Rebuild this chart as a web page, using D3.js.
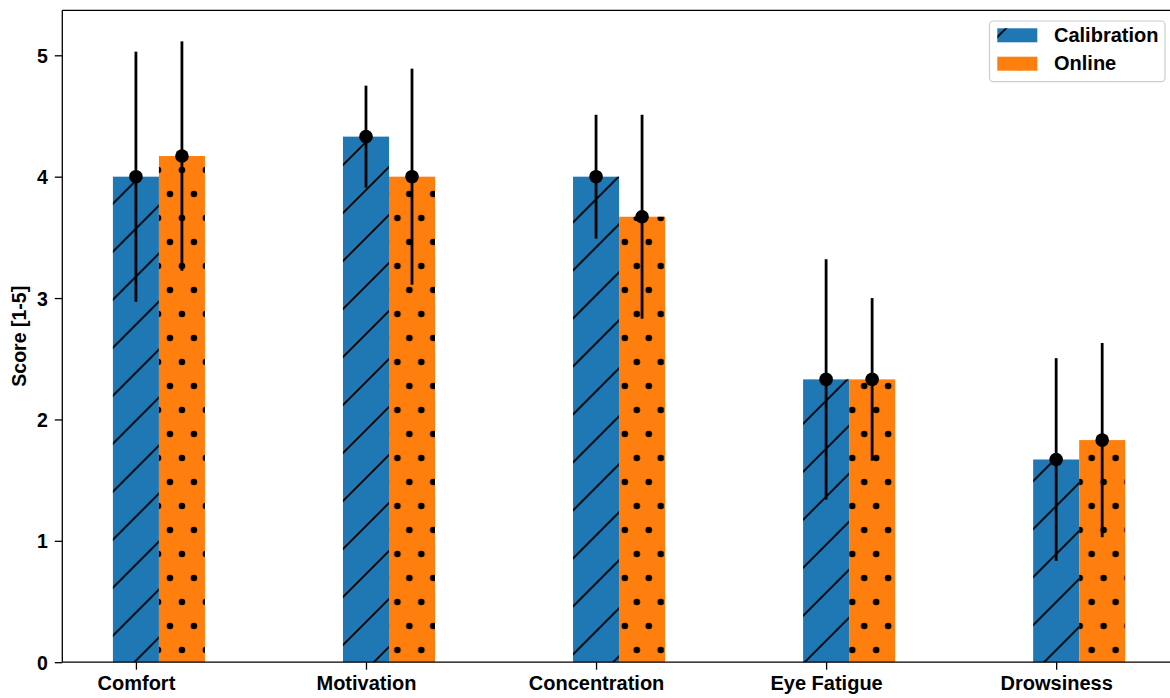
<!DOCTYPE html>
<html>
<head>
<meta charset="utf-8">
<script src="https://cdn.jsdelivr.net/npm/d3@7"></script>
<style>
  html, body { margin: 0; padding: 0; background: #ffffff; }
  svg { display: block; }
  text { font-family: "Liberation Sans", Arial, sans-serif; font-weight: bold; fill: #000; }
</style>
</head>
<body>
<script>
// ---- data ----
const categories = ["Comfort", "Motivation", "Concentration", "Eye Fatigue", "Drowsiness"];
const seriesNames = ["Calibration", "Online"];
const calibrationMean = [4.00, 4.33, 4.00, 2.33, 1.67];
const calibrationErr  = [1.03, 0.42, 0.51, 0.99, 0.835];
const onlineMean      = [4.17, 4.00, 3.67, 2.33, 1.83];
const onlineErr       = [0.945, 0.89, 0.84, 0.67, 0.80];
const yTicks = [0, 1, 2, 3, 4, 5];
const yLabel = "Score [1-5]";

const W = 1170, H = 698;
const margin = { left: 62.3, top: 10.3, bottom: 662.2 };
const barWidth = 0.2;

const svg = d3.select("body").append("svg").attr("width", W).attr("height", H);
const defs = svg.append("defs");

// hatch patterns
const hatchLines = defs.append("pattern")
  .attr("id", "hatchLines").attr("patternUnits", "userSpaceOnUse")
  .attr("width", 48).attr("height", 48)
  .attr("patternTransform", "translate(76.7,0) scale(0.9975,1)");
hatchLines.append("path")
  .attr("d", "M-4,52L52,-4M-4,4L4,-4M44,52L52,44")
  .attr("stroke", "#000").attr("stroke-width", 1.8).attr("fill", "none");

const hatchDots = defs.append("pattern")
  .attr("id", "hatchDots").attr("patternUnits", "userSpaceOnUse")
  .attr("width", 24).attr("height", 48)
  .attr("patternTransform", "translate(164,374) scale(0.9975,1)");
hatchDots.append("circle").attr("cx", 6).attr("cy", 12).attr("r", 3.3).attr("fill", "#000");
hatchDots.append("circle").attr("cx", 18).attr("cy", 36).attr("r", 3.3).attr("fill", "#000");

const colors = ["#1f77b4", "#ff7f0e"];
const hatches = ["url(#hatchLines)", "url(#hatchDots)"];

// data table built from arrays
const series = [
  { name: seriesNames[0], mean: calibrationMean, err: calibrationErr, offset: 0 },
  { name: seriesNames[1], mean: onlineMean, err: onlineErr, offset: barWidth }
];

// scales (matplotlib-like autoscale with 5% margins)
const xMin = -barWidth / 2, xMax = categories.length - 1 + barWidth * 1.5;
const xPad = (xMax - xMin) * 0.05;
const x = d3.scaleLinear().domain([xMin - xPad, xMax + xPad]).range([margin.left, 1175.8]);
const yTop = d3.max(series.flatMap(s => s.mean.map((m, i) => m + s.err[i]))) * 1.05;
const y = d3.scaleLinear().domain([0, yTop]).range([margin.bottom, margin.top]);

// bars
series.forEach((s, si) => {
  const g = svg.append("g");
  const rows = categories.map((c, i) => ({ i, v: s.mean[i] }));
  g.selectAll("rect.fill").data(rows).enter().append("rect")
    .attr("x", d => x(d.i + s.offset - barWidth / 2))
    .attr("width", d => x(d.i + s.offset + barWidth / 2) - x(d.i + s.offset - barWidth / 2))
    .attr("y", d => y(d.v))
    .attr("height", d => y(0) - y(d.v))
    .attr("fill", colors[si]);
  g.selectAll("rect.hatch").data(rows).enter().append("rect")
    .attr("x", d => x(d.i + s.offset - barWidth / 2))
    .attr("width", d => x(d.i + s.offset + barWidth / 2) - x(d.i + s.offset - barWidth / 2))
    .attr("y", d => y(d.v))
    .attr("height", d => y(0) - y(d.v))
    .attr("fill", hatches[si]);
});

// error bars
series.forEach((s) => {
  const g = svg.append("g");
  const rows = categories.map((c, i) => ({ i, v: s.mean[i], e: s.err[i] }));
  g.selectAll("line").data(rows).enter().append("line")
    .attr("x1", d => x(d.i + s.offset)).attr("x2", d => x(d.i + s.offset))
    .attr("y1", d => y(d.v - d.e)).attr("y2", d => y(d.v + d.e))
    .attr("stroke", "#000").attr("stroke-width", 2.8);
  g.selectAll("circle").data(rows).enter().append("circle")
    .attr("cx", d => x(d.i + s.offset)).attr("cy", d => y(d.v))
    .attr("r", 6.8).attr("fill", "#000");
});

// axes
const xAxis = d3.axisBottom(x)
  .tickValues(categories.map((c, i) => i))
  .tickFormat(i => categories[i])
  .tickSizeInner(7.5).tickSizeOuter(0).tickPadding(6);
const gx = svg.append("g").attr("transform", `translate(0,${margin.bottom})`).call(xAxis);
gx.select(".domain").remove();
gx.selectAll(".tick line").attr("stroke", "#000").attr("stroke-width", 1.3);
gx.selectAll(".tick text").attr("font-size", "20px").attr("dy", "0.74em").attr("fill", "#000");

const yAxis = d3.axisLeft(y).tickValues(yTicks).tickFormat(d3.format("d"))
  .tickSizeInner(7.5).tickSizeOuter(0).tickPadding(7);
const gy = svg.append("g").attr("transform", `translate(${margin.left},0)`).call(yAxis);
gy.select(".domain").remove();
gy.selectAll(".tick line").attr("stroke", "#000").attr("stroke-width", 1.3);
gy.selectAll(".tick text").attr("font-size", "19.5px").attr("dy", "0.36em").attr("fill", "#000");

// spines
const spine = svg.append("g").attr("stroke", "#000").attr("stroke-width", 1.3).attr("fill", "none");
spine.append("line").attr("x1", margin.left).attr("x2", margin.left).attr("y1", margin.top).attr("y2", margin.bottom);
spine.append("line").attr("x1", margin.left).attr("x2", 1175.8).attr("y1", margin.bottom).attr("y2", margin.bottom);
spine.append("line").attr("x1", margin.left).attr("x2", 1175.8).attr("y1", margin.top).attr("y2", margin.top);
spine.append("line").attr("x1", 1175.8).attr("x2", 1175.8).attr("y1", margin.top).attr("y2", margin.bottom);

// y label
svg.append("text")
  .attr("transform", `translate(25.5,${(margin.top + margin.bottom) / 2}) rotate(-90)`)
  .attr("text-anchor", "middle").attr("font-size", "19.5px")
  .text(yLabel);

// legend
const lg = svg.append("g");
lg.append("rect").attr("x", 989.5).attr("y", 21).attr("width", 175.5).attr("height", 60.7)
  .attr("rx", 4).attr("fill", "#fff").attr("fill-opacity", 0.8)
  .attr("stroke", "#cccccc").attr("stroke-width", 1.2);
series.forEach((s, si) => {
  const yy = 28.3 + si * 28.4;
  lg.append("rect").attr("x", 997.3).attr("y", yy).attr("width", 40).attr("height", 14).attr("fill", colors[si]);
  lg.append("rect").attr("x", 997.3).attr("y", yy).attr("width", 40).attr("height", 14).attr("fill", hatches[si]);
  lg.append("text").attr("x", 1054).attr("y", yy + 13.6).attr("font-size", "20px").text(s.name);
});
</script>
</body>
</html>
